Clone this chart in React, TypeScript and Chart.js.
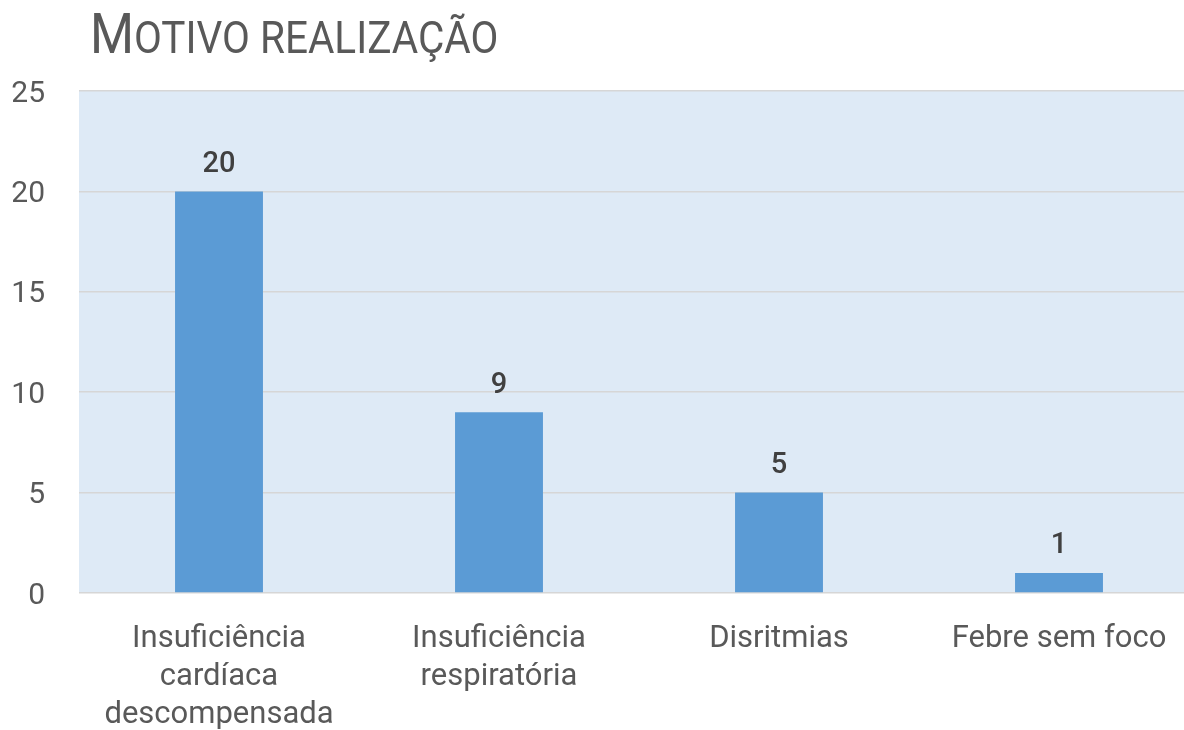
import React, { useEffect, useRef } from "react";
import { Chart, registerables } from "chart.js";

Chart.register(...registerables);

const categories: (string | string[])[] = [
  ["Insuficiência", "cardíaca", "descompensada"],
  ["Insuficiência", "respiratória"],
  "Disritmias",
  "Febre sem foco",
];
const values = [20, 9, 5, 1];
const yMin = 0;
const yMax = 25;
const yStep = 5;

const FONT = "Roboto, 'DejaVu Sans', sans-serif";

const plotBg = {
  id: "plotBg",
  beforeDraw(chart: any) {
    const { ctx, chartArea } = chart;
    ctx.save();
    ctx.fillStyle = "#DEEAF6";
    ctx.fillRect(chartArea.left, chartArea.top, chartArea.right - chartArea.left, chartArea.bottom - chartArea.top);
    ctx.restore();
  },
};

const dataLabels = {
  id: "dataLabels",
  afterDatasetsDraw(chart: any) {
    const { ctx } = chart;
    const meta = chart.getDatasetMeta(0);
    ctx.save();
    ctx.fillStyle = "#404040";
    ctx.font = `500 29px ${FONT}`;
    ctx.textAlign = "center";
    ctx.textBaseline = "middle";
    meta.data.forEach((el: any, i: number) => {
      ctx.fillText(String(chart.data.datasets[0].data[i]), el.x, el.y - 27);
    });
    ctx.restore();
  },
};

export default function App() {
  const ref = useRef<HTMLCanvasElement>(null);
  useEffect(() => {
    document.body.style.overflow = "hidden";
    const chart = new Chart(ref.current!, {
      type: "bar",
      data: {
        labels: categories,
        datasets: [
          {
            data: values,
            backgroundColor: "#5B9BD5",
            categoryPercentage: 1,
            barPercentage: 0.314,
          },
        ],
      },
      options: {
        animation: false,
        responsive: true,
        maintainAspectRatio: false,
        layout: { padding: { top: 91, left: 0, right: 0, bottom: 0 } },
        plugins: {
          legend: { display: false },
          title: { display: false },
          tooltip: { enabled: false },
        },
        scales: {
          x: {
            grid: { display: false, drawTicks: false },
            border: { display: false },
            ticks: {
              color: "#595959",
              font: { family: FONT, size: 31, lineHeight: 1.226 },
              padding: 27,
              maxRotation: 0,
              autoSkip: false,
            },
            afterFit(scale: any) {
              scale.height = 137;
            },
          },
          y: {
            min: yMin,
            max: yMax,
            grid: { color: "#D6D6D6", lineWidth: 1.5, drawTicks: false },
            border: { display: false },
            ticks: {
              stepSize: yStep,
              color: "#595959",
              font: { family: FONT, size: 30 },
              padding: 34,
              labelOffset: 3,
            },
            afterFit(scale: any) {
              scale.width = 79;
            },
          },
        },
      },
      plugins: [plotBg, dataLabels],
    });
    return () => chart.destroy();
  }, []);

  return (
    <div style={{ position: "fixed", left: 0, top: 0, width: 1199, height: 730 }}>
      <div
        style={{
          position: "absolute",
          left: 90,
          top: 6,
          color: "#595959",
          fontFamily: FONT,
          whiteSpace: "nowrap",
          transform: "scaleX(0.9)",
          transformOrigin: "left top",
          lineHeight: 1,
        }}
      >
        <span style={{ fontSize: 56 }}>M</span>
        <span style={{ fontSize: 45 }}>OTIVO REALIZAÇÃO</span>
      </div>
      <canvas ref={ref} />
    </div>
  );
}
